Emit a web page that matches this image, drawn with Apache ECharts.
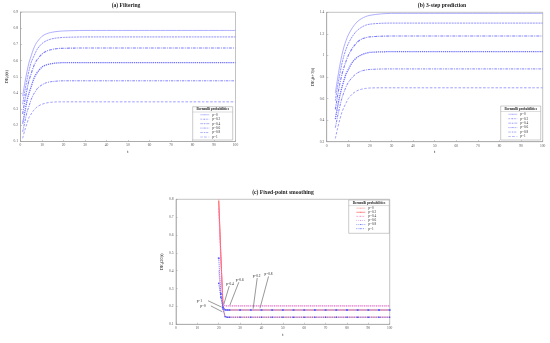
<!DOCTYPE html>
<html>
<head>
<meta charset="utf-8">
<script src="https://cdn.jsdelivr.net/npm/echarts@6/dist/echarts.min.js"></script>
<style>html,body{margin:0;padding:0;background:#fff}#c{width:550px;height:343px}</style>
</head>
<body>
<div id="c"></div>
<script>
// ---------- DATA ----------
const pLabels = ['p=0', 'p=0.2', 'p=0.4', 'p=0.6', 'p=0.8', 'p=1'];

// (a) Filtering
const tA = [1,2,3,4,5,6,7,8,10,12,14,16,18,20,25,30,35,40,45,50,55,60,65,70,75,80,85,90,95,100];
const filt_p0  = [0.38,0.46,0.53,0.59,0.63,0.67,0.70,0.72,0.75,0.765,0.773,0.778,0.781,0.783,0.785,0.786,0.786,0.786,0.786,0.786,0.786,0.786,0.786,0.786,0.786,0.786,0.786,0.786,0.786,0.786];
const filt_p02 = [0.33,0.41,0.48,0.54,0.59,0.62,0.65,0.675,0.705,0.722,0.732,0.738,0.741,0.743,0.745,0.746,0.746,0.746,0.746,0.746,0.746,0.746,0.746,0.746,0.746,0.746,0.746,0.746,0.746,0.746];
const filt_p04 = [0.27,0.35,0.42,0.48,0.52,0.56,0.59,0.61,0.64,0.658,0.667,0.672,0.675,0.676,0.677,0.678,0.678,0.678,0.678,0.678,0.678,0.678,0.678,0.678,0.678,0.678,0.678,0.678,0.678,0.678];
const filt_p06 = [0.21,0.28,0.35,0.40,0.44,0.48,0.51,0.53,0.56,0.573,0.58,0.584,0.586,0.587,0.587,0.587,0.587,0.587,0.587,0.587,0.587,0.587,0.587,0.587,0.587,0.587,0.587,0.587,0.587,0.587];
const filt_p08 = [0.16,0.22,0.28,0.32,0.36,0.39,0.41,0.43,0.45,0.463,0.469,0.472,0.474,0.475,0.475,0.475,0.475,0.475,0.475,0.475,0.475,0.475,0.475,0.475,0.475,0.475,0.475,0.475,0.475,0.475];
const filt_p1  = [0.12,0.17,0.21,0.25,0.27,0.29,0.305,0.317,0.33,0.338,0.342,0.344,0.345,0.345,0.345,0.345,0.345,0.345,0.345,0.345,0.345,0.345,0.345,0.345,0.345,0.345,0.345,0.345,0.345,0.345];

// (b) 3-step prediction
const tB = [4,5,6,7,8,9,10,12,14,16,18,20,25,30,35,40,45,50,55,60,65,70,75,80,85,90,95,100];
const pred_p0  = [0.65,0.78,0.90,1.00,1.08,1.14,1.19,1.26,1.31,1.34,1.36,1.372,1.385,1.39,1.39,1.39,1.39,1.39,1.39,1.39,1.39,1.39,1.39,1.39,1.39,1.39,1.39,1.39];
const pred_p02 = [0.58,0.71,0.82,0.92,1.00,1.06,1.11,1.18,1.23,1.26,1.28,1.29,1.298,1.30,1.30,1.30,1.30,1.30,1.30,1.30,1.30,1.30,1.30,1.30,1.30,1.30,1.30,1.30];
const pred_p04 = [0.50,0.62,0.73,0.82,0.89,0.95,1.00,1.07,1.12,1.15,1.165,1.172,1.178,1.18,1.18,1.18,1.18,1.18,1.18,1.18,1.18,1.18,1.18,1.18,1.18,1.18,1.18,1.18];
const pred_p06 = [0.41,0.52,0.62,0.70,0.77,0.83,0.87,0.94,0.98,1.005,1.02,1.028,1.033,1.035,1.035,1.035,1.035,1.035,1.035,1.035,1.035,1.035,1.035,1.035,1.035,1.035,1.035,1.035];
const pred_p08 = [0.33,0.43,0.52,0.60,0.66,0.71,0.75,0.80,0.835,0.855,0.865,0.87,0.874,0.875,0.875,0.875,0.875,0.875,0.875,0.875,0.875,0.875,0.875,0.875,0.875,0.875,0.875,0.875];
const pred_p1  = [0.23,0.32,0.40,0.47,0.52,0.56,0.60,0.645,0.672,0.686,0.694,0.698,0.70,0.70,0.70,0.70,0.70,0.70,0.70,0.70,0.70,0.70,0.70,0.70,0.70,0.70,0.70,0.70];

// (c) Fixed-point smoothing
const tC = [20,21,22,23,24,25,30,35,40,45,50,55,60,65,70,75,80,85,90,95,100];
const smo_p0  = [0.80,0.49,0.19,0.142,0.14,0.14,0.14,0.14,0.14,0.14,0.14,0.14,0.14,0.14,0.14,0.14,0.14,0.14,0.14,0.14,0.14];
const smo_p02 = [0.79,0.48,0.20,0.181,0.18,0.18,0.18,0.18,0.18,0.18,0.18,0.18,0.18,0.18,0.18,0.18,0.18,0.18,0.18,0.18,0.18];
const smo_p04 = [0.75,0.45,0.215,0.203,0.203,0.203,0.203,0.203,0.203,0.203,0.203,0.203,0.203,0.203,0.203,0.203,0.203,0.203,0.203,0.203,0.203];
const smo_p06 = [0.40,0.26,0.208,0.203,0.203,0.203,0.203,0.203,0.203,0.203,0.203,0.203,0.203,0.203,0.203,0.203,0.203,0.203,0.203,0.203,0.203];
const smo_p08 = [0.47,0.27,0.195,0.181,0.18,0.18,0.18,0.18,0.18,0.18,0.18,0.18,0.18,0.18,0.18,0.18,0.18,0.18,0.18,0.18,0.18];
const smo_p1  = [0.33,0.25,0.185,0.142,0.14,0.14,0.14,0.14,0.14,0.14,0.14,0.14,0.14,0.14,0.14,0.14,0.14,0.14,0.14,0.14,0.14];

// tick values
const xTicks  = [0,10,20,30,40,50,60,70,80,90,100];
const yTicksA = [0.1,0.2,0.3,0.4,0.5,0.6,0.7,0.8,0.9];
const yTicksB = [0.2,0.4,0.6,0.8,1.0,1.2,1.4];
const yTicksC = [0.1,0.2,0.3,0.4,0.5,0.6,0.7,0.8];

// annotations for (c): label, text position, arrow start, arrow end
const annLabels = ['p=1','p=0','p=0.4','p=0.6','p=0.2','p=0.8'];
const annText   = [[10.9,0.232],[12.6,0.204],[25.2,0.325],[29.8,0.347],[37.7,0.371],[43.3,0.38]];
const annFrom   = [[15.0,0.232],[16.3,0.203],[24.9,0.314],[29.4,0.336],[38.0,0.359],[43.3,0.368]];
const annTo     = [[21.4,0.196],[21.7,0.17],[22.4,0.213],[25.2,0.207],[36.1,0.188],[39.3,0.19]];

// ---------- CHART ----------
const F = 'Liberation Serif';
const chart = echarts.init(document.getElementById('c'), null, {renderer: 'canvas'});

const grids = [
  {left: 20.5, top: 12, width: 215, height: 129.5},
  {left: 326.7, top: 12.3, width: 216, height: 129.4},
  {left: 176, top: 199.3, width: 213.7, height: 125}
].map(g => Object.assign({show: true, borderColor: '#9a9a9a', borderWidth: 0.6, backgroundColor: 'rgba(0,0,0,0)'}, g));

function xAx(gi, ticks) {
  return {
    type: 'value', gridIndex: gi, min: ticks[0], max: ticks[ticks.length - 1], interval: ticks[1] - ticks[0],
    name: 't', nameLocation: 'middle', nameGap: 8,
    nameTextStyle: {fontFamily: F, fontSize: 4.5, color: '#222'},
    axisLine: {lineStyle: {color: '#9a9a9a', width: 0.6}},
    axisTick: {inside: true, length: 1.6, lineStyle: {color: '#9a9a9a', width: 0.5}},
    axisLabel: {fontFamily: F, fontSize: 3.6, color: '#555', margin: 2},
    splitLine: {show: false}
  };
}
function yAx(gi, ticks, arg, gap) {
  return {
    type: 'value', gridIndex: gi, min: ticks[0], max: ticks[ticks.length - 1],
    interval: +(ticks[1] - ticks[0]).toFixed(2),
    name: '{n|DE}{s|t}{n|(' + arg + ')}', nameLocation: 'middle', nameGap: gap, nameRotate: 90,
    nameTextStyle: {rich: {
      n: {fontFamily: F, fontSize: 4.6, color: '#222', lineHeight: 6},
      s: {fontFamily: F, fontSize: 3.2, color: '#222', verticalAlign: 'bottom', lineHeight: 6, padding: [2.5, 0, 0, 0]}
    }},
    axisLine: {lineStyle: {color: '#9a9a9a', width: 0.6}},
    axisTick: {inside: true, length: 1.6, lineStyle: {color: '#9a9a9a', width: 0.5}},
    axisLabel: {fontFamily: F, fontSize: 3.6, color: '#555', margin: 2.5},
    splitLine: {show: false}
  };
}

const blueStyles = [
  {c: '#9a9aff', w: 0.8, t: 'solid'},
  {c: '#8585ff', w: 0.9, t: [2, 0.8]},
  {c: '#7c7cff', w: 1.1, t: [3, 1, 1, 1]},
  {c: '#7272ff', w: 1.3, t: [1.3, 0.8]},
  {c: '#8282ff', w: 1.0, t: [2.5, 1, 1, 1]},
  {c: '#9494ff', w: 0.9, t: [2.5, 1.6]}
];
const redStyles = [
  {c: '#ff9c9c', w: 1.0, t: 'solid', sym: 'none'},
  {c: '#ff4a4a', w: 0.8, t: 'solid', sym: 'none'},
  {c: '#ff7ab8', w: 0.9, t: [2, 1], sym: 'none'},
  {c: '#c070e0', w: 0.9, t: [0.8, 1.2], sym: 'none'},
  {c: '#5a64ff', w: 0.9, t: [1, 1], sym: 'rect', ss: 1.8},
  {c: '#3c46ff', w: 0.9, t: [1, 1.2], sym: 'circle', ss: 1.5}
];

function zip(xs, ys) { return xs.map((x, i) => [x, ys[i]]); }

const series = [];
const dataA = [filt_p0, filt_p02, filt_p04, filt_p06, filt_p08, filt_p1];
const dataB = [pred_p0, pred_p02, pred_p04, pred_p06, pred_p08, pred_p1];
const dataC = [smo_p0, smo_p02, smo_p04, smo_p06, smo_p08, smo_p1];

dataA.forEach((d, i) => series.push({
  type: 'line', name: pLabels[i], xAxisIndex: 0, yAxisIndex: 0, data: zip(tA, d),
  smooth: 0.3, symbol: 'none', lineStyle: {color: blueStyles[i].c, width: blueStyles[i].w, type: blueStyles[i].t},
  itemStyle: {color: blueStyles[i].c}
}));
dataB.forEach((d, i) => series.push({
  type: 'line', name: pLabels[i] + ' ', xAxisIndex: 1, yAxisIndex: 1, data: zip(tB, d),
  smooth: 0.3, symbol: 'none', lineStyle: {color: blueStyles[i].c, width: blueStyles[i].w, type: blueStyles[i].t},
  itemStyle: {color: blueStyles[i].c}
}));
dataC.forEach((d, i) => {
  const s = redStyles[i];
  series.push({
    type: 'line', name: pLabels[i] + '  ', xAxisIndex: 2, yAxisIndex: 2, data: zip(tC, d),
    symbol: s.sym, symbolSize: s.ss || 0, showSymbol: s.sym !== 'none', z: 2 + i,
    lineStyle: {color: s.c, width: s.w, type: s.t}, itemStyle: {color: s.c}
  });
});

// annotation series (c)
series.push({
  type: 'line', name: 'ann', xAxisIndex: 2, yAxisIndex: 2, data: [], silent: true, z: 10,
  markLine: {
    silent: true, symbol: ['none', 'arrow'], symbolSize: [0, 3],
    label: {show: false},
    lineStyle: {color: '#333', width: 0.5, type: 'solid'},
    data: annFrom.map((f, i) => [{coord: f}, {coord: annTo[i]}])
  },
  markPoint: {
    silent: true, symbol: 'circle', symbolSize: 0,
    label: {show: true, position: 'inside', fontFamily: F, fontSize: 3.4, color: '#222', formatter: p => p.name},
    data: annText.map((c, i) => ({name: annLabels[i], coord: c}))
  }
});

function legend(names, left, top, lh, gap) {
  return {
    data: names, orient: 'vertical', left: left, top: top, padding: 0,
    itemWidth: 9, itemHeight: 1.2, itemGap: gap + (lh - 1.2) * 0, selectedMode: false,
    lineStyle: {width: 0.6},
    textStyle: {fontFamily: F, fontSize: 3.4, color: '#333', lineHeight: lh, padding: [0, 0, 0, -2]},
    formatter: n => n.trim()
  };
}

function legBox(x, y, w, h, sep) {
  return [
    {type: 'rect', shape: {x: x, y: y, width: w, height: h}, style: {fill: '#fff', stroke: '#999', lineWidth: 0.5}, z: 50},
    {type: 'line', shape: {x1: x, y1: sep, x2: x + w, y2: sep}, style: {stroke: '#aaa', lineWidth: 0.4}, z: 51},
    {type: 'text', x: x + w / 2, y: y + (sep - y) / 2, style: {text: 'Bernoulli probabilities', fontFamily: F, fontWeight: 'bold', fontSize: 3.4, fill: '#222', align: 'center', verticalAlign: 'middle'}, z: 51}
  ];
}

const titles = [
  {text: '(a) Filtering', left: 126, top: 3},
  {text: '(b) 3-step prediction', left: 442, top: 3},
  {text: '(c) Fixed-point smoothing', left: 283, top: 190}
].map(t => ({text: t.text, left: t.left, top: t.top, textAlign: 'center', padding: 0,
  textStyle: {fontFamily: F, fontWeight: 'bold', fontSize: 5.6, color: '#222'}}));

chart.setOption({
  animation: false,
  backgroundColor: '#fff',
  title: titles,
  grid: grids,
  xAxis: [xAx(0, xTicks), xAx(1, xTicks), xAx(2, xTicks)],
  yAxis: [yAx(0, yTicksA, 't|t', 8), yAx(1, yTicksB, 't+3|t', 9.5), yAx(2, yTicksC, '20|t', 9.5)],
  legend: [
    Object.assign(legend(pLabels, 200, 113, 3.5, 0.95), {z: 60}),
    Object.assign(legend(pLabels.map(p => p + ' '), 508, 112.5, 3.5, 0.95), {z: 60}),
    Object.assign(legend(pLabels.map(p => p + '  '), 356, 206.5, 3.3, 0.8), {z: 60})
  ],
  graphic: [].concat(
    legBox(192.7, 106.7, 40, 33.3, 112),
    legBox(500.7, 106, 40, 34, 111.5),
    legBox(348.7, 200, 40.6, 33.3, 205.6)
  ),
  series: series
});
</script>
</body>
</html>
